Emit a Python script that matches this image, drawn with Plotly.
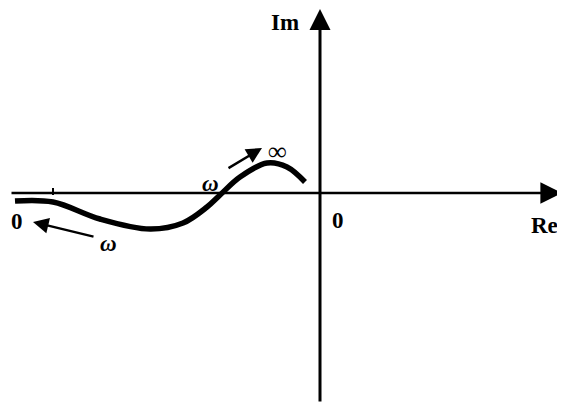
import plotly.graph_objects as go

# Nyquist curve (Re, Im)
curve_re = [-3.05, -2.67, -2.20, -1.70, -1.37, -1.13, -1.00, -0.80, -0.53, -0.33, -0.15]
curve_im = [-0.08, -0.09, -0.26, -0.36, -0.30, -0.14, -0.02, 0.16, 0.30, 0.26, 0.11]

axis_re_span = [-3.10, 2.42]
axis_im_span = [-2.10, 1.84]

# text labels: (text, x, y, italic, anchor)
labels = [
    ("Im", -0.35, 1.71, False, "center"),
    ("Re", 2.09, -0.32, False, "left"),
    ("0", 0.18, -0.27, False, "center"),
    ("0", -3.03, -0.28, False, "center"),
    ("\u03c9", -2.12, -0.50, True, "center"),
    ("\u03c9", -1.10, 0.10, True, "center"),
    ("\u221e", -0.43, 0.42, False, "center"),
]

# little direction arrows: (tail_x, tail_y, head_x, head_y)
dir_arrows = [
    (-2.25, -0.44, -2.87, -0.29),
    (-0.93, 0.24, -0.58, 0.45),
]

fig = go.Figure()

fig.add_trace(go.Scatter(
    x=curve_re, y=curve_im, mode="lines",
    line=dict(color="black", width=5.5, shape="spline", smoothing=1.0),
    hoverinfo="skip", showlegend=False,
))

# axes drawn as arrows
fig.add_annotation(x=axis_re_span[1], y=0, ax=axis_re_span[0], ay=0,
                   xref="x", yref="y", axref="x", ayref="y", text="",
                   showarrow=True, arrowhead=2, arrowsize=1.8, arrowwidth=2.4, arrowcolor="black")
fig.add_annotation(x=0, y=axis_im_span[1], ax=0, ay=axis_im_span[0],
                   xref="x", yref="y", axref="x", ayref="y", text="",
                   showarrow=True, arrowhead=2, arrowsize=1.4, arrowwidth=3, arrowcolor="black")

for tx, ty, hx, hy in dir_arrows:
    fig.add_annotation(x=hx, y=hy, ax=tx, ay=ty,
                       xref="x", yref="y", axref="x", ayref="y", text="",
                       showarrow=True, arrowhead=2, arrowsize=1.3, arrowwidth=2.4, arrowcolor="black")

# small tick on the real axis
fig.add_shape(type="line", x0=-2.67, x1=-2.67, y0=-0.02, y1=0.05,
              line=dict(color="black", width=2))

for txt, x, y, italic, anchor in labels:
    size = 26 if txt == "\u221e" else 23
    if italic:
        txt = "<i>" + txt + "</i>"
    fig.add_annotation(x=x, y=y, xref="x", yref="y", text="<b>" + txt + "</b>",
                       showarrow=False, xanchor=anchor, yanchor="middle",
                       font=dict(family="Liberation Serif", size=size, color="black"))

# the page puts an 8px margin round the figure, so the figure is sized to
# fill the rest of the 565x403 window
fig.update_layout(
    width=557, height=395,
    margin=dict(l=0, r=0, t=0, b=0),
    plot_bgcolor="white", paper_bgcolor="white",
    xaxis=dict(range=[-3.12, 2.45], visible=False, fixedrange=True),
    yaxis=dict(range=[-2.10, 1.85], visible=False, fixedrange=True),
)

fig.write_html("out.html")
